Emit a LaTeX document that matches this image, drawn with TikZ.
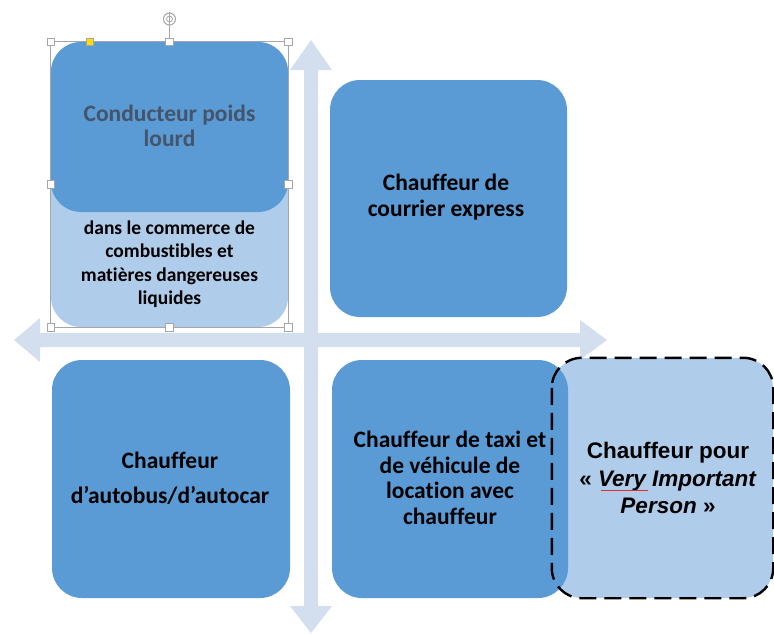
\documentclass[tikz,border=0pt]{standalone}
\usepackage{fontspec}
\setmainfont{Carlito}[Ligatures={NoCommon}]
\newfontfamily\arialfont{Liberation Sans}
\definecolor{dblue}{HTML}{5B9BD5}
\definecolor{lblue}{HTML}{AFCDEA}
\definecolor{arrowc}{HTML}{D3DEEF}
\definecolor{slate}{HTML}{44546A}
\definecolor{handle}{HTML}{A6A6A6}
\definecolor{spellred}{HTML}{E03030}
\tikzset{
  darkbox/.style={fill=dblue, rounded corners=30pt, inner sep=0pt},
  lightbox/.style={fill=lblue, rounded corners=30pt, inner sep=0pt},
  bigtxt/.style={font=\bfseries\fontsize{23.5}{25.5}\selectfont, align=center, inner sep=0pt},
  widetxt/.style={font=\bfseries\fontsize{23.5}{35}\selectfont, align=center, inner sep=0pt},
  smalltxt/.style={font=\bfseries\fontsize{19.5}{23.5}\selectfont, align=center, inner sep=0pt},
  viptxt/.style={font=\arialfont\bfseries\fontsize{22.5}{27.5}\selectfont, align=center, inner sep=0pt},
  hdl/.style={draw=handle, fill=white, line width=0.7pt, minimum size=7.5pt, inner sep=0pt},
}
\begin{document}
\begin{tikzpicture}[x=1pt,y=-1pt]
\useasboundingbox (0,0) rectangle (774,633);
% axes (block arrows)
\fill[arrowc] (304,70) -- (290,70) -- (311,40) -- (332,70) -- (318,70) -- (318,606)
  -- (332,606) -- (311,633) -- (290,606) -- (304,606) -- cycle;
\fill[arrowc] (40,333) -- (40,318) -- (14,340) -- (40,362) -- (40,347) -- (580,347)
  -- (580,360) -- (607,340) -- (580,320) -- (580,333) -- cycle;
% top-left
\node[lightbox, minimum width=237pt, minimum height=285pt] (tlb) at (169.5,184.5) {};
\node[darkbox, minimum width=237pt, minimum height=170pt] (tlt) at (169.5,127) {};
\node[bigtxt, text=slate] (tltxt) at (169.5,126) {Conducteur poids\\lourd};
\node[smalltxt] (tlbtxt) at (169.5,264) {dans le commerce de\\combustibles et\\matières dangereuses\\liquides};
% top-right
\node[darkbox, minimum width=237pt, minimum height=237pt] (tr) at (448.5,198.5) {};
\node[bigtxt] (trtxt) at (446,197) {Chauffeur de\\courrier express};
% bottom-left
\node[darkbox, minimum width=238pt, minimum height=238pt] (bl) at (171,479) {};
\node[widetxt] (bltxt) at (170,478) {Chauffeur\\d’autobus/d’autocar};
% VIP fill, taxi box, VIP border
\node[lightbox, minimum width=221pt, minimum height=240pt] (vip) at (662.5,478) {};
\node[darkbox, minimum width=236pt, minimum height=238pt] (taxi) at (450,479) {};
\node[bigtxt] (taxitxt) at (450,478) {Chauffeur de taxi et\\de véhicule de\\location avec\\chauffeur};
\draw[black, line width=2.4pt, dash pattern=on 17pt off 8pt, rounded corners=30pt]
  (vip.north west) rectangle (vip.south east);
\node[viptxt] (viptxt) at (668,478) {Chauffeur pour\\« \textit{Very Important}\\\textit{Person} »};
% spell-check mark under "Very"
\coordinate (sp1) at (601,490.5);
\coordinate (sp2) at (648,490.5);
\draw[spellred, line width=0.9pt] (sp1) -- (sp2);
% selection handles
\draw[handle, line width=0.7pt] (tlb.north west) rectangle (tlb.south east);
\coordinate (rot) at (169.5,19);
\draw[handle, line width=0.7pt] (tlb.north) -- ([yshift=7pt]rot);
\draw[handle, line width=1pt] (rot) circle (6pt);
\draw[handle, line width=0.8pt] (rot) circle (3pt);
\foreach \a in {north west,north,north east,west,east,south west,south,south east}
  \node[hdl] at (tlb.\a) {};
\node[hdl, fill=yellow!80!orange, draw=handle] (yh) at (90,42) {};
\end{tikzpicture}
\end{document}
